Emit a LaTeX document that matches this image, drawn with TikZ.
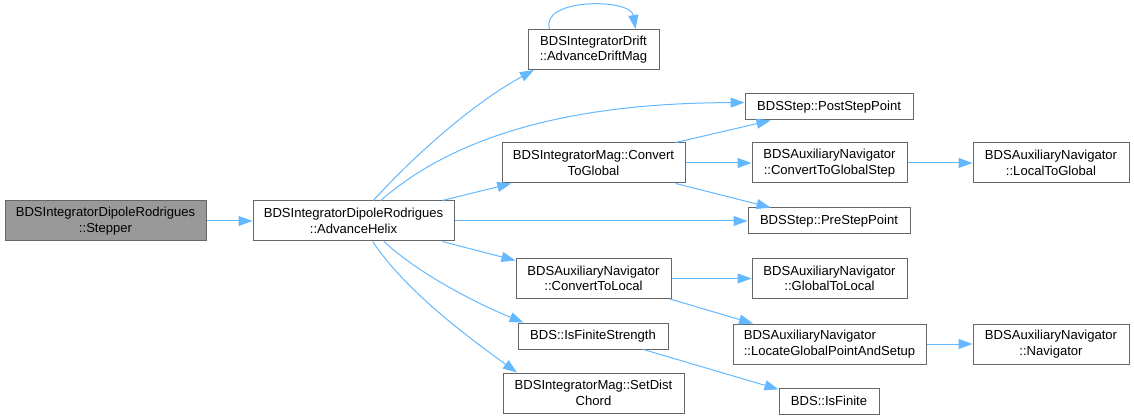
\documentclass[tikz,border=0pt]{standalone}
\usepackage{fontspec}
\setmainfont{Liberation Sans}
\usetikzlibrary{arrows.meta}
\definecolor{edgeblue}{HTML}{63B8FF}
\definecolor{boxgray}{HTML}{666666}
\definecolor{fillgray}{HTML}{999999}

\begin{document}
\begin{tikzpicture}[x=0.75pt,y=-0.75pt,
	fn/.style={draw=boxgray, line width=0.75pt, fill=white, inner sep=0pt, align=center, font=\fontsize{9.8}{11.7}\selectfont},
	two/.style={fn, minimum height=30pt},
	one/.style={fn, minimum height=19.5pt},
	call/.style={->, draw=edgeblue, line width=0.75pt},
	>={Triangle[length=10.5pt,width=7.5pt]}]
	\useasboundingbox (0,0) rectangle (1134,420);
	\node[two, fill=fillgray, minimum width=150.75pt] (v1) at (105.5,221) {BDSIntegratorDipoleRodrigues\\::Stepper};
	\node[two, minimum width=150.75pt] (v2) at (353.5,221) {BDSIntegratorDipoleRodrigues\\::AdvanceHelix};
	\node[two, minimum width=98.25pt] (v3) at (593.5,49.5) {BDSIntegratorDrift\\::AdvanceDriftMag};
	\node[one, minimum width=126pt] (v4) at (829,107) {BDSStep::PostStepPoint};
	\node[two, minimum width=137.25pt] (v5) at (593.5,163) {BDSIntegratorMag::Convert\\ToGlobal};
	\node[two, minimum width=116.25pt] (v6) at (829.5,163) {BDSAuxiliaryNavigator\\::ConvertToGlobalStep};
	\node[two, minimum width=117pt] (v7) at (1051,163) {BDSAuxiliaryNavigator\\::LocalToGlobal};
	\node[one, minimum width=121.5pt] (v8) at (829,221) {BDSStep::PreStepPoint};
	\node[two, minimum width=116.25pt] (v9) at (593.5,278.5) {BDSAuxiliaryNavigator\\::ConvertToLocal};
	\node[two, minimum width=116.25pt] (v10) at (829.5,278.5) {BDSAuxiliaryNavigator\\::GlobalToLocal};
	\node[one, minimum width=112.5pt] (v11) at (593,336) {BDS::IsFiniteStrength};
	\node[two, align=left, minimum width=144.75pt] (v12) at (829.5,344) {BDSAuxiliaryNavigator\\::LocateGlobalPointAndSetup};
	\node[two, minimum width=117pt] (v13) at (1051,344) {BDSAuxiliaryNavigator\\::Navigator};
	\node[two, minimum width=135.75pt] (v14) at (593.5,393) {BDSIntegratorMag::SetDist\\Chord};
	\node[one, minimum width=75pt] (v15) at (829,401) {BDS::IsFinite};
	\draw [call] (v1) -- (v2);
	\draw [call] (v2.46) .. controls (410,160) and (470,105) .. (v3.199);
	\draw [call] (v3.155) .. controls +(-10,-31) and +(-5,-31) .. (v3.26);
	\draw [call] (v2.37) .. controls (450,140) and (560,103) .. (v4.177);
	\draw [call] (v2.13) -- (v5.194);
	\draw [call] (v2) -- (v8);
	\draw [call] (v2.-13) -- (v9.167);
	\draw [call] (v2.-34) .. controls (420,275) and (480,305) .. (v11.169);
	\draw [call] (v2.-47) .. controls (405,290) and (465,335) .. (v14.165);
	\draw [call] (v5.14) -- (v4.193);
	\draw [call] (v5) -- (v6);
	\draw [call] (v5.-14) -- (v8.167);
	\draw [call] (v6) -- (v7);
	\draw [call] (v9) -- (v10);
	\draw [call] (v9.-15) -- (v12.165);
	\draw [call] (v11.-15) -- (v15.167);
	\draw [call] (v12) -- (v13);
\end{tikzpicture}
\end{document}
